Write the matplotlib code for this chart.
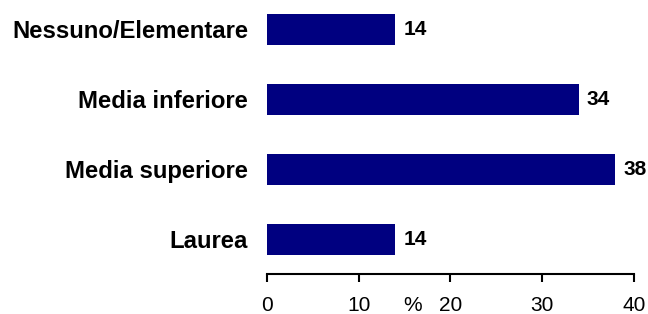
import matplotlib
matplotlib.use('Agg')
import matplotlib.pyplot as plt

categories = ['Nessuno/Elementare', 'Media inferiore', 'Media superiore', 'Laurea']
values = [14, 34, 38, 14]
xticks = [0, 10, 20, 30, 40]

plt.rcParams['font.family'] = ['Liberation Sans', 'DejaVu Sans']


def main():
    fig = plt.figure(figsize=(6.48, 3.14), dpi=100)
    ax = fig.add_axes([0.412, 0.1274, 0.566, 0.8726])
    pos = list(range(len(categories)))
    ax.barh(pos, values, height=0.443, color='#000080')
    for y, v in zip(pos, values):
        ax.text(v + 0.9, y, str(v), va='center', ha='left',
                fontsize=15, fontweight='bold', clip_on=False)
    ax.set_xlim(0, 40)
    ax.set_ylim(3.493, -0.421)
    ax.set_yticks(pos)
    ax.set_yticklabels(categories, fontsize=17.2, fontweight='bold')
    ax.tick_params(axis='y', length=0, pad=13.5)
    ax.set_xticks(xticks)
    ax.set_xticklabels([str(t) for t in xticks], fontsize=15)
    ax.tick_params(axis='x', length=6, width=1.5, direction='out', pad=10)
    for s in ['left', 'right', 'top']:
        ax.spines[s].set_visible(False)
    ax.spines['bottom'].set_linewidth(1.5)
    ax.text(15.9, -0.115, '%', transform=ax.get_xaxis_transform(),
            ha='center', va='center', fontsize=15)
    fig.savefig('out.png', dpi=100)


if __name__ == '__main__':
    main()
